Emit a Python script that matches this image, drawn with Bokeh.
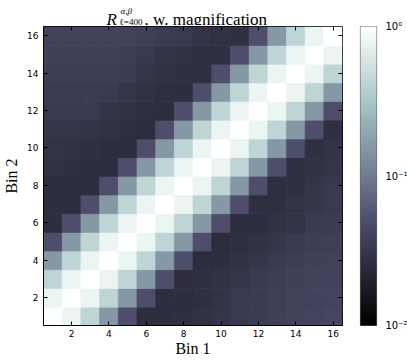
import numpy as np
from bokeh.plotting import figure
from bokeh.layouts import column, row
from bokeh.models import (LogColorMapper, ColorBar, FixedTicker, LinearAxis,
                          ColumnDataSource)
from bokeh.core.properties import value
from bokeh.embed import file_html
from bokeh.resources import INLINE

# ---- data -------------------------------------------------------------
bins = list(range(1, 16 + 1))
tick_values = [2, 4, 6, 8, 10, 12, 14, 16]
cbar_ticks = [0.01, 0.1, 1.0]
cbar_labels = ["10\u207b\u00b2", "10\u207b\u00b9", "10\u2070"]

# rows: Bin 2 = 1 .. 16 ; columns: Bin 1 = 1 .. 16
R_rows = [
    [1.0, 0.78, 0.42, 0.155, 0.05, 0.026, 0.026, 0.0265, 0.028, 0.030, 0.0324, 0.035, 0.0375, 0.039, 0.040, 0.0415],
    [0.78, 1.0, 0.78, 0.42, 0.155, 0.05, 0.026, 0.026, 0.027, 0.029, 0.0317, 0.0345, 0.0367, 0.038, 0.0395, 0.040],
    [0.42, 0.78, 1.0, 0.78, 0.42, 0.155, 0.05, 0.0254, 0.027, 0.028, 0.031, 0.033, 0.036, 0.0375, 0.039, 0.0395],
    [0.155, 0.42, 0.78, 1.0, 0.78, 0.42, 0.155, 0.05, 0.0254, 0.026, 0.028, 0.031, 0.033, 0.036, 0.0375, 0.038],
    [0.05, 0.155, 0.42, 0.78, 1.0, 0.78, 0.42, 0.155, 0.05, 0.0254, 0.0265, 0.028, 0.031, 0.033, 0.036, 0.0367],
    [0.026, 0.05, 0.155, 0.42, 0.78, 1.0, 0.78, 0.42, 0.155, 0.05, 0.026, 0.026, 0.028, 0.0297, 0.033, 0.0345],
    [0.026, 0.026, 0.05, 0.155, 0.42, 0.78, 1.0, 0.78, 0.42, 0.155, 0.05, 0.027, 0.0265, 0.029, 0.031, 0.0324],
    [0.026, 0.026, 0.026, 0.05, 0.155, 0.42, 0.78, 1.0, 0.78, 0.42, 0.155, 0.05, 0.0265, 0.027, 0.030, 0.032],
    [0.028, 0.027, 0.026, 0.0254, 0.05, 0.155, 0.42, 0.78, 1.0, 0.78, 0.42, 0.155, 0.05, 0.027, 0.028, 0.030],
    [0.029, 0.028, 0.027, 0.026, 0.0254, 0.05, 0.155, 0.42, 0.78, 1.0, 0.78, 0.42, 0.155, 0.05, 0.027, 0.029],
    [0.031, 0.031, 0.029, 0.028, 0.0265, 0.026, 0.05, 0.155, 0.42, 0.78, 1.0, 0.78, 0.42, 0.155, 0.05, 0.027],
    [0.0324, 0.0324, 0.0324, 0.029, 0.028, 0.0265, 0.026, 0.05, 0.155, 0.42, 0.78, 1.0, 0.78, 0.42, 0.155, 0.05],
    [0.0345, 0.0345, 0.0345, 0.033, 0.030, 0.028, 0.0265, 0.026, 0.05, 0.155, 0.42, 0.78, 1.0, 0.78, 0.42, 0.155],
    [0.036, 0.036, 0.036, 0.036, 0.0345, 0.031, 0.028, 0.027, 0.027, 0.05, 0.155, 0.42, 0.78, 1.0, 0.78, 0.42],
    [0.0375, 0.0375, 0.0375, 0.0375, 0.0355, 0.0317, 0.029, 0.028, 0.027, 0.027, 0.05, 0.155, 0.42, 0.78, 1.0, 0.78],
    [0.039, 0.039, 0.039, 0.039, 0.039, 0.0367, 0.0345, 0.032, 0.029, 0.028, 0.027, 0.05, 0.155, 0.42, 0.78, 1.0],
]

# ---- bone colormap (matplotlib segment data) --------------------------
def bone_palette(n=256):
    t = np.linspace(0, 1, n)
    r = np.interp(t, [0, 0.746032, 1], [0, 0.652778, 1])
    g = np.interp(t, [0, 0.365079, 0.746032, 1], [0, 0.319444, 0.777778, 1])
    b = np.interp(t, [0, 0.365079, 1], [0, 0.444444, 1])
    return ["#%02x%02x%02x" % (int(round(rr * 255)), int(round(gg * 255)), int(round(bb * 255)))
            for rr, gg, bb in zip(r, g, b)]

mapper = LogColorMapper(palette=bone_palette(), low=0.01, high=1.0)

xs, ys, vs = [], [], []
for bi, row_vals in zip(bins, R_rows):
    for ai, v in zip(bins, row_vals):
        xs.append(ai)
        ys.append(bi)
        vs.append(v)
src = ColumnDataSource(dict(x=xs, y=ys, v=vs))

serif = "Liberation Serif"
LEFT, FRAME, RIGHT = 42, 299, 1
TITLE_H = 25

# ---- title strip: R^{alpha,beta}_{l=400}, w. magnification -------------
# frame aligned with the heatmap frame; x range expressed in page pixels
tf = figure(frame_width=FRAME, frame_height=TITLE_H,
            x_range=(LEFT, LEFT + FRAME), y_range=(0, TITLE_H),
            output_backend="svg", toolbar_location=None,
            min_border_left=LEFT, min_border_right=RIGHT, min_border_top=0, min_border_bottom=0,
            x_axis_location=None, y_axis_location=None)
tf.grid.visible = False
tf.outline_line_color = None
tf.background_fill_color = "white"
tf.border_fill_color = "white"
tf.text(x=[105], y=[6], text=["R"], text_font=value(serif), text_font_style="italic",
        text_font_size="17px", text_color="black", text_baseline="alphabetic", text_align="left")
tf.text(x=[119], y=[15], text=["\u03b1,\u03b2"], text_font=value(serif), text_font_style="italic",
        text_font_size="9px", text_color="black", text_baseline="alphabetic", text_align="left")
tf.text(x=[118], y=[4], text=["\u2113=400"], text_font=value(serif),
        text_font_size="9px", text_color="black", text_baseline="alphabetic", text_align="left")
tf.text(x=[143], y=[6], text=[", w. magnification"], text_font=value(serif),
        text_font_size="17px", text_color="black", text_baseline="alphabetic", text_align="left")

# ---- main heatmap -----------------------------------------------------
p = figure(frame_width=FRAME, frame_height=FRAME, x_range=(0.5, 16.5), y_range=(0.5, 16.5),
           output_backend="svg", toolbar_location=None,
           min_border_left=LEFT, min_border_top=1, min_border_bottom=37, min_border_right=RIGHT,
           x_axis_label="Bin 1", y_axis_label="Bin 2")
p.background_fill_color = "white"
p.border_fill_color = "white"
p.grid.visible = False
p.outline_line_color = "black"
p.outline_line_width = 1

p.rect(x="x", y="y", width=1, height=1, source=src, dilate=True,
       fill_color={"field": "v", "transform": mapper},
       line_color={"field": "v", "transform": mapper}, line_width=0.6)

ticker = FixedTicker(ticks=tick_values)
for ax in (p.xaxis[0], p.yaxis[0]):
    ax.ticker = ticker
    ax.major_tick_in = 4
    ax.major_tick_out = 0
    ax.minor_tick_line_color = None
    ax.axis_line_color = "black"
    ax.major_tick_line_color = "black"
    ax.major_label_text_font = "DejaVu Sans"
    ax.major_label_text_font_size = "9px"
    ax.major_label_text_color = "black"
    ax.axis_label_text_font = serif
    ax.axis_label_text_font_size = "16px"
    ax.axis_label_text_font_style = "normal"
    ax.axis_label_text_color = "black"
p.xaxis[0].major_label_standoff = 4
p.yaxis[0].major_label_standoff = 5
p.xaxis[0].axis_label_standoff = 0
p.yaxis[0].axis_label_standoff = 4

for side in ("above", "right"):
    ax2 = LinearAxis(ticker=ticker, major_tick_in=4, major_tick_out=0,
                     minor_tick_line_color=None, fixed_location=16.5,
                     major_label_overrides={t: "" for t in tick_values},
                     major_label_standoff=0, axis_line_color="black")
    p.add_layout(ax2, side)

# ---- colour bar strip -------------------------------------------------
cf = figure(frame_width=16, frame_height=FRAME, x_range=(0, 1), y_range=(0.01, 1.0),
            y_axis_type="log", y_axis_location="right", x_axis_location=None,
            output_backend="svg", toolbar_location=None,
            min_border_left=17, min_border_top=TITLE_H + 1, min_border_bottom=37,
            min_border_right=0)
cf.grid.visible = False
cf.outline_line_color = "#666666"
cf.outline_line_width = 1.2
cf.background_fill_color = "white"
cf.border_fill_color = "white"
cb = ColorBar(color_mapper=mapper, ticker=FixedTicker(ticks=[]),
              width=16, height=FRAME, padding=0, margin=0, location=(0, 0),
              bar_line_color=None, major_tick_line_color=None, minor_tick_line_color=None,
              background_fill_alpha=0, border_line_color=None)
cf.add_layout(cb, "center")
cax = cf.yaxis[0]
cax.ticker = FixedTicker(ticks=cbar_ticks)
cax.major_label_overrides = dict(zip(cbar_ticks, cbar_labels))
cax.major_tick_line_color = None
cax.minor_tick_line_color = None
cax.axis_line_color = None
cax.major_label_standoff = 3
cax.major_label_text_font = "DejaVu Sans"
cax.major_label_text_font_size = "10px"
cax.major_label_text_color = "black"

layout = row(column(tf, p, spacing=0), cf, spacing=0)
open("out.html", "w").write(file_html(layout, INLINE))
